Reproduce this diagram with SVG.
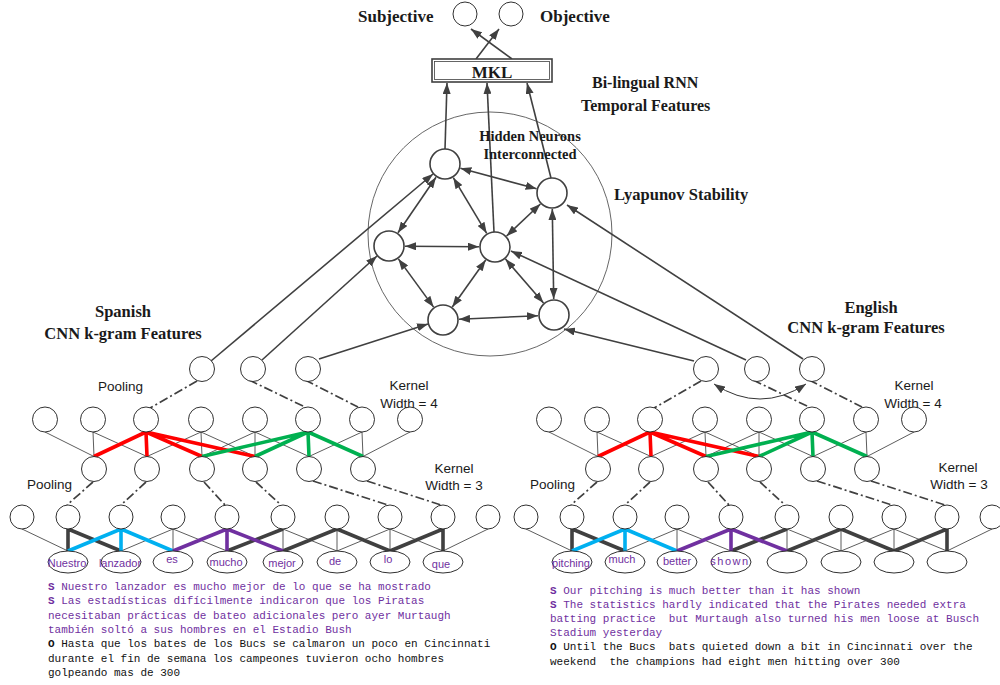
<svg xmlns="http://www.w3.org/2000/svg" width="1000" height="685" viewBox="0 0 1000 685">
<style>
.n{fill:#fff;stroke:#404040;stroke-width:1.6}
.c{fill:#fff;stroke:#1a1a1a;stroke-width:0.9}
.t{fill:none;stroke:#333;stroke-width:0.8}
.dd{fill:none;stroke:#404040;stroke-width:1.7;stroke-dasharray:9 3 2 3}
.a{fill:none;stroke:#404040;stroke-width:1.6}
.k{fill:none;stroke-width:3.6;stroke-linejoin:miter}
.red{stroke:#ff0000}.grn{stroke:#00b050}.cyn{stroke:#00b0f0}.pur{stroke:#7030a0}.blk{stroke:#404040}
.hb{font-family:"Liberation Serif","Times New Roman",serif;font-weight:bold;fill:#1a1a1a}
.lb{font-family:"Liberation Sans",Arial,sans-serif;font-size:13.5px;fill:#1a1a1a}
.wd{font-family:"Liberation Sans",Arial,sans-serif;font-size:11px;fill:#7030a0;text-anchor:middle}
.mono{font-family:"Liberation Mono","DejaVu Sans Mono",monospace;font-size:11px;white-space:pre}
.p{fill:#7030a0}.o{fill:#111}
</style>
<defs>
<marker id="ah" markerUnits="userSpaceOnUse" markerWidth="11" markerHeight="8" refX="11" refY="4" orient="auto-start-reverse"><path d="M0,0 L11,4 L0,8 z" fill="#404040"/></marker>
</defs>
<rect width="1000" height="685" fill="#fff"/>

<g id="connectors">
  <!-- MKL to outputs -->
  <path class="a" marker-end="url(#ah)" d="M476 59L499 29"/>
  <path class="a" marker-end="url(#ah)" d="M512 59L471 29"/>
  <!-- hidden to MKL -->
  <path class="a" marker-end="url(#ah)" d="M445 149L447 83"/>
  <path class="a" marker-end="url(#ah)" d="M494 232L487 83"/>
  <path class="a" marker-end="url(#ah)" d="M551 178L527 83"/>
  <!-- hidden interconnections -->
  <path class="a" marker-start="url(#ah)" marker-end="url(#ah)" d="M460.4 168.2L536.6 188.8"/>
  <path class="a" marker-start="url(#ah)" marker-end="url(#ah)" d="M436 177.2L398 232.8"/>
  <path class="a" marker-start="url(#ah)" marker-end="url(#ah)" d="M453.3 177.7L486.7 233.3"/>
  <path class="a" marker-start="url(#ah)" marker-end="url(#ah)" d="M405 246.2L479 246.8"/>
  <path class="a" marker-start="url(#ah)" marker-end="url(#ah)" d="M398.4 258.9L433.6 307.1"/>
  <path class="a" marker-start="url(#ah)" marker-end="url(#ah)" d="M485.7 260L452.3 307"/>
  <path class="a" marker-start="url(#ah)" marker-end="url(#ah)" d="M506.6 236L540.4 204"/>
  <path class="a" marker-start="url(#ah)" marker-end="url(#ah)" d="M505.5 259.1L543.5 302.9"/>
  <path class="a" marker-start="url(#ah)" marker-end="url(#ah)" d="M552.3 209L553.7 299"/>
  <path class="a" marker-start="url(#ah)" marker-end="url(#ah)" d="M459 319.3L538 315.7"/>
  <!-- CNN pooled features to hidden neurons -->
  <path class="a" marker-end="url(#ah)" d="M211 361L433 174"/>
  <path class="a" marker-end="url(#ah)" d="M262 360L377 256"/>
  <path class="a" marker-end="url(#ah)" d="M319 359L428 324"/>
  <path class="a" marker-end="url(#ah)" d="M694 361L564 329"/>
  <path class="a" marker-end="url(#ah)" d="M746 360L511 251"/>
  <path class="a" marker-end="url(#ah)" d="M803 359L567 205"/>
  <!-- curved arrow English pool -->
  <path class="t" style="stroke-width:1" marker-start="url(#ah)" marker-end="url(#ah)" d="M714 384Q760 414 806 384"/>

  <!-- Spanish thin B->C -->
  <path class="t" d="M45 432L94 456.5M93 432L94 456.5M93 432L147 456.5M146 432L94 456.5M146 432L147 456.5M146 432L202 456.5M201 432L147 456.5M201 432L202 456.5M201 432L255 456.5M255 432L202 456.5M255 432L255 456.5M255 432L309 456.5M308 432L255 456.5M308 432L309 456.5M308 432L363 456.5M362 432L309 456.5M362 432L363 456.5M410 432L363 456.5"/>
  <!-- English thin B->C -->
  <path class="t" d="M549 432L598 456.5M597 432L598 456.5M597 432L651 456.5M650 432L598 456.5M650 432L651 456.5M650 432L706 456.5M705 432L651 456.5M705 432L706 456.5M705 432L759 456.5M759 432L706 456.5M759 432L759 456.5M759 432L813 456.5M812 432L759 456.5M812 432L813 456.5M812 432L867 456.5M866 432L813 456.5M866 432L867 456.5M914 432L867 456.5"/>
  <!-- Spanish thin D->words -->
  <path class="t" d="M22 529L68 551M68 529L68 551M68 529L121 551M121 529L68 551M121 529L121 551M121 529L173 551M173 529L121 551M173 529L173 551M173 529L227 551M227 529L173 551M227 529L227 551M227 529L283 551M283 529L227 551M283 529L283 551M283 529L337 551M337 529L283 551M337 529L337 551M337 529L390 551M390 529L337 551M390 529L390 551M390 529L443 551M443 529L390 551M443 529L443 551M488 529L443 551"/>
  <!-- English thin D->words -->
  <path class="t" d="M526 529L572 551M572 529L572 551M572 529L625 551M625 529L572 551M625 529L625 551M625 529L677 551M677 529L625 551M677 529L677 551M677 529L731 551M731 529L677 551M731 529L731 551M731 529L787 551M787 529L731 551M787 529L787 551M787 529L841 551M841 529L787 551M841 529L841 551M841 529L894 551M894 529L841 551M894 529L894 551M894 529L947 551M947 529L894 551M947 529L947 551M992 529L947 551"/>

  <!-- thick kernels Spanish -->
  <path class="k red" d="M146 432L94 456.5M146 432L147 456.5M146 432L202 456.5M146 432L255 456.5"/>
  <path class="k grn" d="M308 432L202 456.5M308 432L255 456.5M308 432L309 456.5M308 432L363 456.5"/>
  <path class="k blk" d="M68 551L68 529L121 551"/>
  <path class="k blk" d="M227 551L283 529M283 551L337 529L390 551L443 529L443 551"/>
  <path class="k cyn" d="M68 551L121 529L121 551M121 529L173 551"/>
  <path class="k pur" d="M173 551L227 529L227 551M227 529L283 551"/>
  <!-- thick kernels English -->
  <path class="k red" d="M650 432L598 456.5M650 432L651 456.5M650 432L706 456.5M650 432L759 456.5"/>
  <path class="k grn" d="M812 432L706 456.5M812 432L759 456.5M812 432L813 456.5M812 432L867 456.5"/>
  <path class="k blk" d="M572 551L572 529L625 551"/>
  <path class="k blk" d="M731 551L787 529M787 551L841 529L894 551L947 529L947 551"/>
  <path class="k cyn" d="M572 551L625 529L625 551M625 529L677 551"/>
  <path class="k pur" d="M677 551L731 529L731 551M731 529L787 551"/>

  <!-- pooling dash-dot Spanish -->
  <path class="dd" d="M197 381L150 408M249 380L305 407M305 380L358 407M93 482L67 505M146 482L121 505M204 482L225 505M256 482L281 505M313 481L388 505M367 481L441 505"/>
  <!-- pooling dash-dot English -->
  <path class="dd" d="M701 381L654 408M753 380L809 407M809 380L862 407M597 482L571 505M650 482L625 505M708 482L729 505M760 482L785 505M817 481L892 505M871 481L945 505"/>
</g>

<g id="outputs">
  <g id="subjective"><circle class="c" cx="465" cy="14" r="12"/><text class="hb" x="358" y="22" font-size="17">Subjective</text></g>
  <g id="objective"><circle class="c" cx="511" cy="14" r="12"/><text class="hb" x="540" y="22" font-size="17">Objective</text></g>
</g>
<g id="mkl">
  <rect x="432" y="59" width="120" height="23" fill="#fff" stroke="#404040" stroke-width="1.6"/>
  <rect x="434.5" y="61.5" width="115" height="18" fill="none" stroke="#404040" stroke-width="0.8"/>
  <text class="hb" x="492" y="78" font-size="17" text-anchor="middle">MKL</text>
</g>
<g id="rnn">
  <circle cx="490" cy="234" r="122" fill="none" stroke="#404040" stroke-width="0.8"/>
  <text class="hb" x="592" y="88" font-size="16">Bi-lingual RNN</text>
  <text class="hb" x="581" y="111" font-size="16">Temporal Features</text>
  <text class="hb" x="614" y="200" font-size="16.5">Lyapunov Stability</text>
  <text class="hb" x="530" y="141" font-size="14.5" text-anchor="middle">Hidden Neurons</text>
  <text class="hb" x="530" y="159" font-size="14.5" text-anchor="middle">Interconnected</text>
  <g id="h1"><circle class="n" cx="445" cy="164" r="15"/></g>
  <g id="h2"><circle class="n" cx="552" cy="193" r="15"/></g>
  <g id="h3"><circle class="n" cx="389" cy="246" r="15"/></g>
  <g id="h4"><circle class="n" cx="495" cy="247" r="15"/></g>
  <g id="h5"><circle class="n" cx="443" cy="320" r="15"/></g>
  <g id="h6"><circle class="n" cx="554" cy="315" r="15"/></g>
</g>

<g id="spanish-cnn">
  <text class="hb" x="123" y="317" font-size="16.5" text-anchor="middle">Spanish</text>
  <text class="hb" x="123" y="339" font-size="16.5" text-anchor="middle">CNN k-gram Features</text>
  <text class="lb" x="98" y="391">Pooling</text>
  <text class="lb" x="27" y="489">Pooling</text>
  <text class="lb" x="409" y="390" text-anchor="middle">Kernel</text>
  <text class="lb" x="409" y="408" text-anchor="middle">Width = 4</text>
  <text class="lb" x="454" y="473" text-anchor="middle">Kernel</text>
  <text class="lb" x="454" y="490" text-anchor="middle">Width = 3</text>
  <g id="es-a1"><circle class="c" cx="202" cy="369" r="12.5"/></g>
  <g id="es-a2"><circle class="c" cx="253" cy="369" r="12.5"/></g>
  <g id="es-a3"><circle class="c" cx="308" cy="369" r="12.5"/></g>
  <g id="es-b0"><circle class="c" cx="45" cy="419.5" r="12.5"/></g>
  <g id="es-b1"><circle class="c" cx="93" cy="419.5" r="12.5"/></g>
  <g id="es-b2"><circle class="c" cx="146" cy="419.5" r="12.5"/></g>
  <g id="es-b3"><circle class="c" cx="201" cy="419.5" r="12.5"/></g>
  <g id="es-b4"><circle class="c" cx="255" cy="419.5" r="12.5"/></g>
  <g id="es-b5"><circle class="c" cx="308" cy="419.5" r="12.5"/></g>
  <g id="es-b6"><circle class="c" cx="362" cy="419.5" r="12.5"/></g>
  <g id="es-b7"><circle class="c" cx="410" cy="419.5" r="12.5"/></g>
  <g id="es-c1"><circle class="c" cx="94" cy="469" r="12.5"/></g>
  <g id="es-c2"><circle class="c" cx="147" cy="469" r="12.5"/></g>
  <g id="es-c3"><circle class="c" cx="202" cy="469" r="12.5"/></g>
  <g id="es-c4"><circle class="c" cx="255" cy="469" r="12.5"/></g>
  <g id="es-c5"><circle class="c" cx="309" cy="469" r="12.5"/></g>
  <g id="es-c6"><circle class="c" cx="363" cy="469" r="12.5"/></g>
  <g id="es-d0"><circle class="c" cx="22" cy="517" r="12"/></g>
  <g id="es-d1"><circle class="c" cx="68" cy="517" r="12"/></g>
  <g id="es-d2"><circle class="c" cx="121" cy="517" r="12"/></g>
  <g id="es-d3"><circle class="c" cx="173" cy="517" r="12"/></g>
  <g id="es-d4"><circle class="c" cx="227" cy="517" r="12"/></g>
  <g id="es-d5"><circle class="c" cx="283" cy="517" r="12"/></g>
  <g id="es-d6"><circle class="c" cx="337" cy="517" r="12"/></g>
  <g id="es-d7"><circle class="c" cx="390" cy="517" r="12"/></g>
  <g id="es-d8"><circle class="c" cx="443" cy="517" r="12"/></g>
  <g id="es-d9"><circle class="c" cx="488" cy="517" r="12"/></g>
  <g id="es-w1"><ellipse class="c" cx="68" cy="562" rx="20" ry="11"/><text class="wd" x="67" y="567">Nuestro</text></g>
  <g id="es-w2"><ellipse class="c" cx="121" cy="562" rx="20" ry="11"/><text class="wd" x="120" y="567">lanzador</text></g>
  <g id="es-w3"><ellipse class="c" cx="173" cy="562" rx="20" ry="11"/><text class="wd" x="172" y="563">es</text></g>
  <g id="es-w4"><ellipse class="c" cx="227" cy="562" rx="20" ry="11"/><text class="wd" x="226" y="566">mucho</text></g>
  <g id="es-w5"><ellipse class="c" cx="283" cy="562" rx="20" ry="11"/><text class="wd" x="282" y="567">mejor</text></g>
  <g id="es-w6"><ellipse class="c" cx="337" cy="562" rx="20" ry="11"/><text class="wd" x="335" y="565">de</text></g>
  <g id="es-w7"><ellipse class="c" cx="390" cy="562" rx="20" ry="11"/><text class="wd" x="388" y="563">lo</text></g>
  <g id="es-w8"><ellipse class="c" cx="443" cy="562" rx="20" ry="11"/><text class="wd" x="441" y="568">que</text></g>
</g>

<g id="english-cnn">
  <text class="hb" x="871" y="313" font-size="16.5" text-anchor="middle">English</text>
  <text class="hb" x="866" y="333" font-size="16.5" text-anchor="middle">CNN k-gram Features</text>
  <text class="lb" x="530" y="489">Pooling</text>
  <text class="lb" x="914" y="390" text-anchor="middle">Kernel</text>
  <text class="lb" x="913" y="408" text-anchor="middle">Width = 4</text>
  <text class="lb" x="958" y="472" text-anchor="middle">Kernel</text>
  <text class="lb" x="959" y="489" text-anchor="middle">Width = 3</text>
  <g id="en-a1"><circle class="c" cx="706" cy="369" r="12.5"/></g>
  <g id="en-a2"><circle class="c" cx="757" cy="369" r="12.5"/></g>
  <g id="en-a3"><circle class="c" cx="812" cy="369" r="12.5"/></g>
  <g id="en-b0"><circle class="c" cx="549" cy="419.5" r="12.5"/></g>
  <g id="en-b1"><circle class="c" cx="597" cy="419.5" r="12.5"/></g>
  <g id="en-b2"><circle class="c" cx="650" cy="419.5" r="12.5"/></g>
  <g id="en-b3"><circle class="c" cx="705" cy="419.5" r="12.5"/></g>
  <g id="en-b4"><circle class="c" cx="759" cy="419.5" r="12.5"/></g>
  <g id="en-b5"><circle class="c" cx="812" cy="419.5" r="12.5"/></g>
  <g id="en-b6"><circle class="c" cx="866" cy="419.5" r="12.5"/></g>
  <g id="en-b7"><circle class="c" cx="914" cy="419.5" r="12.5"/></g>
  <g id="en-c1"><circle class="c" cx="598" cy="469" r="12.5"/></g>
  <g id="en-c2"><circle class="c" cx="651" cy="469" r="12.5"/></g>
  <g id="en-c3"><circle class="c" cx="706" cy="469" r="12.5"/></g>
  <g id="en-c4"><circle class="c" cx="759" cy="469" r="12.5"/></g>
  <g id="en-c5"><circle class="c" cx="813" cy="469" r="12.5"/></g>
  <g id="en-c6"><circle class="c" cx="867" cy="469" r="12.5"/></g>
  <g id="en-d0"><circle class="c" cx="526" cy="517" r="12"/></g>
  <g id="en-d1"><circle class="c" cx="572" cy="517" r="12"/></g>
  <g id="en-d2"><circle class="c" cx="625" cy="517" r="12"/></g>
  <g id="en-d3"><circle class="c" cx="677" cy="517" r="12"/></g>
  <g id="en-d4"><circle class="c" cx="731" cy="517" r="12"/></g>
  <g id="en-d5"><circle class="c" cx="787" cy="517" r="12"/></g>
  <g id="en-d6"><circle class="c" cx="841" cy="517" r="12"/></g>
  <g id="en-d7"><circle class="c" cx="894" cy="517" r="12"/></g>
  <g id="en-d8"><circle class="c" cx="947" cy="517" r="12"/></g>
  <g id="en-d9"><circle class="c" cx="992" cy="517" r="12"/></g>
  <g id="en-w1"><ellipse class="c" cx="572" cy="562" rx="20" ry="11"/><text class="wd" x="571" y="567">pitching</text></g>
  <g id="en-w2"><ellipse class="c" cx="625" cy="562" rx="20" ry="11"/><text class="wd" x="622" y="563">much</text></g>
  <g id="en-w3"><ellipse class="c" cx="677" cy="562" rx="20" ry="11"/><text class="wd" x="677" y="565">better</text></g>
  <g id="en-w4"><ellipse class="c" cx="731" cy="562" rx="20" ry="11"/><text class="wd" x="730" y="565" font-size="9" letter-spacing="1.5">shown</text></g>
  <g id="en-w5"><ellipse class="c" cx="787" cy="562" rx="20" ry="11"/></g>
  <g id="en-w6"><ellipse class="c" cx="841" cy="562" rx="20" ry="11"/></g>
  <g id="en-w7"><ellipse class="c" cx="894" cy="562" rx="20" ry="11"/></g>
  <g id="en-w8"><ellipse class="c" cx="947" cy="562" rx="20" ry="11"/></g>
</g>

<g id="spanish-text" class="mono">
  <text x="48" y="590" class="p" xml:space="preserve"><tspan font-weight="bold">S</tspan> Nuestro lanzador es mucho mejor de lo que se ha mostrado</text>
  <text x="48" y="604.3" class="p" xml:space="preserve"><tspan font-weight="bold">S</tspan> Las estadísticas difícilmente indicaron que los Piratas</text>
  <text x="48" y="618.6" class="p" xml:space="preserve">necesitaban prácticas de bateo adicionales pero ayer Murtaugh</text>
  <text x="48" y="632.9" class="p" xml:space="preserve">también soltó a sus hombres en el Estadio Bush</text>
  <text x="48" y="647.2" class="o" xml:space="preserve"><tspan font-weight="bold">O</tspan> Hasta que los bates de los Bucs se calmaron un poco en Cincinnati</text>
  <text x="48" y="661.5" class="o" xml:space="preserve">durante el fin de semana los campeones tuvieron ocho hombres</text>
  <text x="48" y="675.8" class="o" xml:space="preserve">golpeando mas de 300</text>
</g>
<g id="english-text" class="mono">
  <text x="550" y="593.5" class="p" xml:space="preserve"><tspan font-weight="bold">S</tspan> Our pitching is much better than it has shown</text>
  <text x="550" y="607.6" class="p" xml:space="preserve"><tspan font-weight="bold">S</tspan> The statistics hardly indicated that the Pirates needed extra</text>
  <text x="550" y="621.8" class="p" xml:space="preserve">batting practice  but Murtaugh also turned his men loose at Busch</text>
  <text x="550" y="636" class="p" xml:space="preserve">Stadium yesterday</text>
  <text x="550" y="650.4" class="o" xml:space="preserve"><tspan font-weight="bold">O</tspan> Until the Bucs  bats quieted down a bit in Cincinnati over the</text>
  <text x="550" y="664.5" class="o" xml:space="preserve">weekend  the champions had eight men hitting over 300</text>
</g>
</svg>
